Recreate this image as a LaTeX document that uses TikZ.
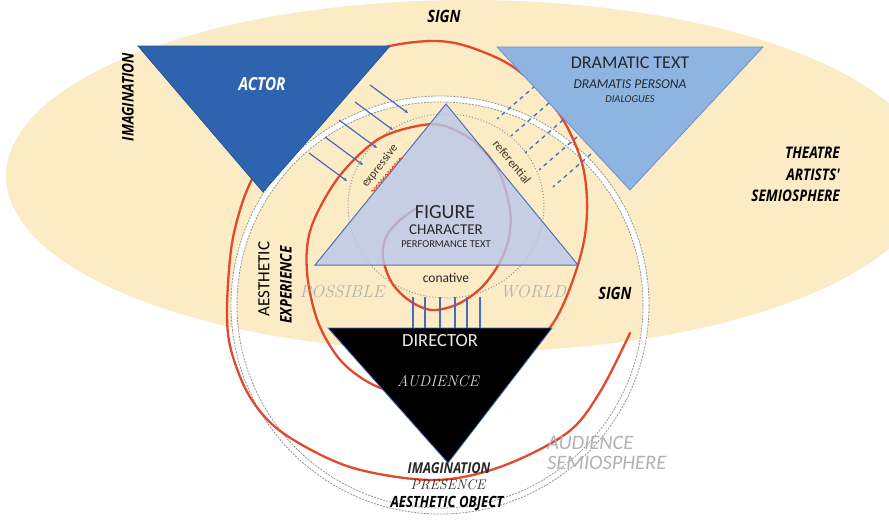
\documentclass[tikz,border=0pt]{standalone}
\usepackage{fontspec}
\usetikzlibrary{arrows.meta,decorations.pathmorphing}
\newfontfamily\calfont{Carlito}
\newfontfamily\heavyfont{Open Sans}[FakeStretch=0.85]
\newcommand\fsz[1]{\fontsize{#1}{#1}\selectfont}
\definecolor{paper}{RGB}{251,236,198}
\definecolor{spiralred}{RGB}{226,72,44}
\definecolor{actorblue}{RGB}{46,99,176}
\definecolor{textblue}{RGB}{142,180,226}
\definecolor{figblue}{RGB}{184,199,234}
\definecolor{edgeblue}{RGB}{82,112,186}
\definecolor{linkblue}{RGB}{72,106,190}
\definecolor{ringgray}{RGB}{150,150,150}
\definecolor{softgray}{RGB}{178,178,178}
\definecolor{inkgray}{RGB}{40,40,40}
\begin{document}
\begin{tikzpicture}[x=1pt,y=-1pt,
  heavytxt/.style={font=\heavyfont\bfseries\itshape\fsz{#1}, inner sep=0pt, text=black},
  caltxt/.style={font=\calfont\fsz{#1}, inner sep=0pt, text=inkgray},
  calital/.style={font=\calfont\itshape\fsz{#1}, inner sep=0pt, text=inkgray},
  decotxt/.style={font=\rmfamily\itshape\fsz{#1}, inner sep=0pt},
  spiral/.style={draw=spiralred, line width=2.3pt, line cap=round},
  actorarrow/.style={draw=linkblue, line width=1.2pt, -{Stealth[length=4pt,width=3.5pt]}},
  textlink/.style={draw=linkblue, line width=1.3pt, dash pattern=on 4pt off 4pt},
  directorlink/.style={draw=linkblue, line width=1.2pt},
  ringdash/.style={draw=ringgray, line width=0.8pt, dash pattern=on 2pt off 1.2pt},
  tri/.style={line width=0.8pt, line join=miter}]
\useasboundingbox (0,0) rectangle (889,522);
\fill[white] (0,0) rectangle (889,522);

% theatre artists' semiosphere
\fill[paper] (468,176) ellipse [x radius=462, y radius=176];

% functions circle around the figure
\draw[gray!85, line width=1pt, dotted] (446,206) ellipse [x radius=98, y radius=92];

% audience semiosphere ring
\draw[white, line width=6pt] (440,305) circle [radius=206];
\draw[ringdash] (440,305) circle [radius=203];
\draw[ringdash] (440,305) circle [radius=209];

% spiral of aesthetic experience
\draw[spiral] plot[smooth, tension=0.55] coordinates {
  (630,333) (600,392) (567,433) (500,467) (433,480) (350,467) (283,433)
  (250,397) (231,350) (227,310) (231,250) (240,210) (253,177)
  (285,118) (325,78) (360,57) (390,46) (430,41) (463,45) (507,63)
  (540,90) (565,123) (582,163) (587,200) (585,235) (577,268) (563,305)
  (548,330) (515,365) (470,388) (420,394) (378,387) (342,362) (318,322)
  (307,272) (311,228) (338,178) (377,140) (417,126) (445,126) (476,143)
  (499,172) (510,210) (509,237) (500,262) (482,287) (458,304) (432,310)
  (410,301) (392,283) (383,258) (386,237) (400,220) (417,208)};

% actor -> figure
\foreach \x/\y in {370/85, 355/102, 339/120, 325/137, 309/153}
  \draw[actorarrow] (\x,\y) -- ++(38,28);

% dramatic text -> figure
\foreach \i in {0,...,4}
  \draw[textlink] ({535+14*\i},{86+17*\i}) -- ++(-38,33);

% director -> figure
\foreach \x in {413,425,440,455,467,480}
  \draw[directorlink] (\x,297) -- (\x,328);

% the four triangles
\filldraw[tri, fill=actorblue, draw=actorblue!85!black] (138,46) -- (390,46) -- (263,192) -- cycle;
\filldraw[tri, fill=textblue, draw=edgeblue!80] (497,47) -- (763,47) -- (630,190) -- cycle;
\filldraw[tri, fill=figblue, fill opacity=0.8, draw=edgeblue, line width=1pt] (446,104) -- (578,265) -- (315,265) -- cycle;
\filldraw[tri, fill=black, draw=linkblue] (328,328) -- (552,328) -- (448,463) -- cycle;

% squiggle under "expressive"
\draw[spiralred, line width=0.8pt, decorate, decoration={snake, amplitude=1.2pt, segment length=3.5pt}] (372,192) -- (402,157);

% labels
\node[heavytxt=17] (signtop) at (444,16) {SIGN};
\node[heavytxt=16, rotate=90] (imagleft) at (128,97) {IMAGINATION};
\node[heavytxt=18, text=white] (actor) at (262,84) {ACTOR};
\node[caltxt=18] (dramatic) at (630,63) {DRAMATIC TEXT};
\node[calital=13.5] (persona) at (630,84) {DRAMATIS PERSONA};
\node[calital=10.5] (dialogues) at (630,99) {DIALOGUES};
\node[heavytxt=16, anchor=east] (theatre) at (840,153) {THEATRE};
\node[heavytxt=16, anchor=east] (artists) at (840,175) {ARTISTS'};
\node[heavytxt=16, anchor=east] (semiotop) at (840,196) {SEMIOSPHERE};
\node[caltxt=20] (figure) at (445,212) {FIGURE};
\node[caltxt=15] (character) at (446,230) {CHARACTER};
\node[caltxt=10.5] (perftext) at (446,244) {PERFORMANCE TEXT};
\node[caltxt=12, rotate=52, text=inkgray!85!brown] (expressive) at (380,166) {expressive};
\node[caltxt=12.5, rotate=-51, text=inkgray!85!brown] (referential) at (512,162) {referential};
\node[caltxt=13.5] (conative) at (446,278) {conative};
\node[decotxt=17.5, text=softgray] (possible) at (342,292) {POSSIBLE};
\node[decotxt=17.5, text=softgray] (world) at (533,292) {WORLD};
\node[heavytxt=17] (signright) at (615,293) {SIGN};
\node[caltxt=17, rotate=90, text=black] (aesthetic) at (264,279) {AESTHETIC};
\node[heavytxt=16, rotate=90] (experience) at (286,285) {EXPERIENCE};
\node[caltxt=18.5, text=white!92!black] (director) at (440,341) {DIRECTOR};
\node[decotxt=15.5, text=white!85!black] (audience) at (438,381) {AUDIENCE};
\node[heavytxt=15, text=inkgray] (imagbottom) at (449,468) {IMAGINATION};
\node[decotxt=14, text=inkgray] (presence) at (448,485) {PRESENCE};
\node[heavytxt=15.5] (aestheticobject) at (447,504) {AESTHETIC OBJECT};
\node[calital=20.5, text=softgray, anchor=west] (audsemi) at (547,443) {AUDIENCE};
\node[calital=20.5, text=softgray, anchor=west] (semiobottom) at (547,463) {SEMIOSPHERE};
\end{tikzpicture}
\end{document}
